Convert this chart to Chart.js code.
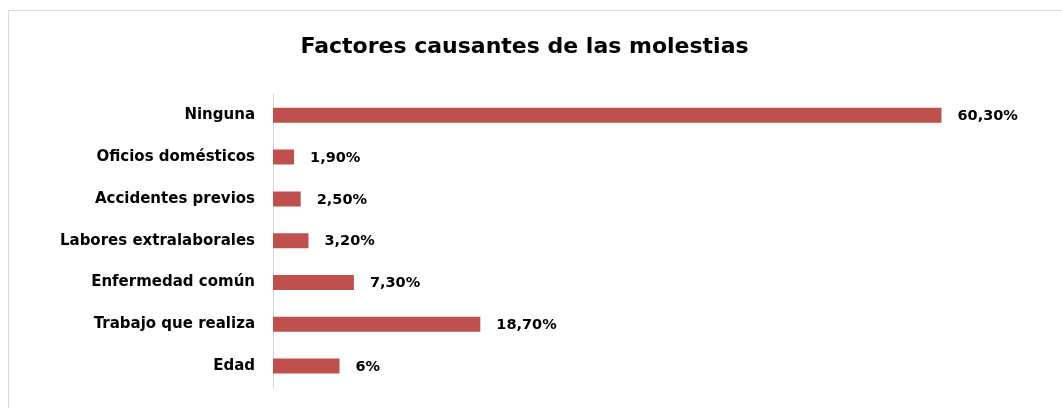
<!DOCTYPE html>
<html>
<head>
<meta charset="utf-8">
<script src="https://cdn.jsdelivr.net/npm/chart.js@4/dist/chart.umd.min.js"></script>
<style>
  body { margin: 0; background: #fff; overflow: hidden; }
  #frame { position: absolute; left: 8px; top: 10px; width: 1100px; height: 420px; border: 1px solid #d9d9d9; }
  #chart { position: absolute; left: 0; top: 0; }
</style>
</head>
<body>
<div id="frame"></div>
<canvas id="chart" width="1062" height="408"></canvas>
<script>
const categories = ['Ninguna', 'Oficios domésticos', 'Accidentes previos', 'Labores extralaborales', 'Enfermedad común', 'Trabajo que realiza', 'Edad'];
const values = [60.3, 1.9, 2.5, 3.2, 7.3, 18.7, 6];
const valueLabels = ['60,30%', '1,90%', '2,50%', '3,20%', '7,30%', '18,70%', '6%'];

const fontFamily = "'DejaVu Sans', sans-serif";

// draws the value text next to each bar
const barLabels = {
  id: 'barLabels',
  afterDatasetsDraw(chart) {
    const ctx = chart.ctx;
    const meta = chart.getDatasetMeta(0);
    ctx.save();
    ctx.font = 'bold 14.5px ' + fontFamily;
    ctx.fillStyle = '#000';
    ctx.textBaseline = 'middle';
    meta.data.forEach((bar, i) => {
      ctx.fillText(valueLabels[i], bar.x + 16, bar.y + 1);
    });
    ctx.restore();
  }
};

new Chart(document.getElementById('chart').getContext('2d'), {
  type: 'bar',
  data: {
    labels: categories,
    datasets: [{
      data: values,
      backgroundColor: '#C0504D',
      barPercentage: 0.72,
      categoryPercentage: 0.5
    }]
  },
  options: {
    indexAxis: 'y',
    responsive: false,
    animation: false,
    layout: { padding: { left: 0, right: 13, bottom: 21 } },
    plugins: {
      legend: { display: false },
      tooltip: { enabled: false },
      title: {
        display: true,
        text: 'Factores causantes de las molestias',
        color: '#000',
        font: { family: fontFamily, size: 22, weight: 'bold', lineHeight: 1.2 },
        padding: { top: 34, bottom: 34 }
      }
    },
    scales: {
      x: {
        display: false, min: 0, max: 70,
        afterFit(scale) { scale.height = 0; scale.paddingLeft = 0; scale.paddingRight = 0; }
      },
      y: {
        grid: { display: false, drawTicks: false },
        border: { color: '#d9d9d9', width: 1 },
        ticks: {
          color: '#000',
          padding: 18,
          font: { family: fontFamily, size: 15, weight: 'bold' }
        },
        // fixed label column so the axis sits where the reference has it
        afterFit(scale) { scale.width = 273; scale.paddingTop = 0; scale.paddingBottom = 0; }
      }
    }
  },
  plugins: [barLabels]
});
</script>
</body>
</html>
